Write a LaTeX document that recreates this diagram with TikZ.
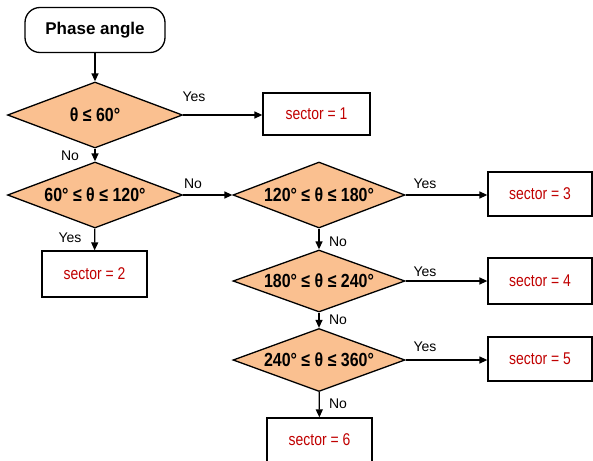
\documentclass[tikz,border=0pt]{standalone}
\usepackage{fontspec}
\setmainfont{Liberation Sans}
\newfontfamily\narrowfont{Liberation Sans}[FakeStretch=0.84]
\newfontfamily\narrowerfont{Liberation Sans}[FakeStretch=0.82]
\usetikzlibrary{shapes.geometric,arrows.meta}
\definecolor{dfill}{HTML}{FAC090}
\definecolor{sred}{HTML}{C00000}
\begin{document}
\begin{tikzpicture}[x=1pt,y=1pt,
  line width=1.3pt,
  startbox/.style={draw,rounded corners=15pt,minimum width=140pt,minimum height=45pt,inner sep=0pt,
    font=\fontsize{17}{19}\selectfont\bfseries},
  dec/.style={draw,diamond,fill=dfill,inner sep=0pt,aspect=2.6,
    font=\narrowfont\fontsize{19}{21}\selectfont\bfseries},
  res/.style={draw,minimum width=105pt,minimum height=44pt,inner sep=0pt,text=sred,
    font=\narrowerfont\fontsize{17}{19}\selectfont},
  lab/.style={font=\fontsize{14}{16}\selectfont,inner sep=0pt},
  arr/.style={-{Triangle[length=8pt,width=7pt]}}
]
\useasboundingbox (0,0) rectangle (593,-460);
\node[startbox] (phase) at (95,-30) {Phase angle};
\node[dec,minimum width=175pt,minimum height=66pt] (d1) at (95,-115) {θ ≤ 60°};
\node[res,minimum width=107pt,minimum height=42pt] (s1) at (316.5,-114) {sector = 1};
\node[dec,minimum width=175pt,minimum height=66pt] (d2) at (95,-195) {60° ≤ θ ≤ 120°};
\node[res,minimum height=46pt] (s2) at (94.5,-274) {sector = 2};
\node[dec,minimum width=172pt,minimum height=66pt] (d3) at (319,-195) {120° ≤ θ ≤ 180°};
\node[res,minimum width=104pt] (s3) at (540,-194) {sector = 3};
\node[dec,minimum width=172pt,minimum height=62pt] (d4) at (319,-281) {180° ≤ θ ≤ 240°};
\node[res,minimum width=104pt,minimum height=46pt] (s4) at (540,-281) {sector = 4};
\node[dec,minimum width=172pt,minimum height=63pt] (d5) at (319,-360) {240° ≤ θ ≤ 360°};
\node[res,minimum width=104pt] (s5) at (540,-359) {sector = 5};
\node[res] (s6) at (319.5,-440) {sector = 6};

\draw[arr] (phase) -- (d1);
\draw[arr] (d1.east) -- (s1.west |- d1.east);
\draw[arr] (d1) -- (d2);
\draw[arr] (d2.east) -- (d3.west);
\draw[arr] (d2) -- (s2);
\draw[arr] (d3.east) -- (s3.west |- d3.east);
\draw[arr] (d3) -- (d4);
\draw[arr] (d4.east) -- (s4.west |- d4.east);
\draw[arr] (d4) -- (d5);
\draw[arr] (d5.east) -- (s5.west |- d5.east);
\draw[arr] (d5) -- (s6);

\node[lab] (l1) at (194,-97) {Yes};
\node[lab] (l2) at (70,-156) {No};
\node[lab] (l3) at (193,-184) {No};
\node[lab] (l4) at (70,-238) {Yes};
\node[lab] (l5) at (425,-184) {Yes};
\node[lab] (l6) at (338,-242) {No};
\node[lab] (l7) at (425,-272) {Yes};
\node[lab] (l8) at (338,-320) {No};
\node[lab] (l9) at (425,-347) {Yes};
\node[lab] (l10) at (338,-404) {No};
\end{tikzpicture}
\end{document}
